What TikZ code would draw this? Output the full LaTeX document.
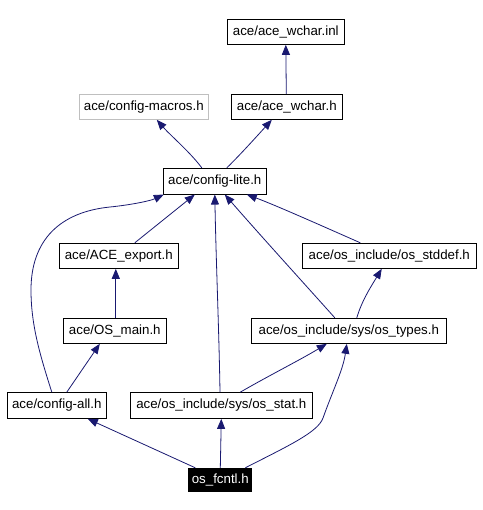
\documentclass[tikz,border=0pt]{standalone}
\usepackage{fontspec}
\setmainfont{Liberation Sans}
\usetikzlibrary{arrows.meta}
\definecolor{edgeblue}{HTML}{191970}
\definecolor{lightgray}{HTML}{BFBFBF}
\begin{document}
\begin{tikzpicture}[x=1pt,y=-1pt,
  filebox/.style={draw=black,line width=1pt,inner sep=0pt,minimum height=25pt,font=\fontsize{13.3}{15}\selectfont,fill=white},
  edge/.style={draw=edgeblue,line width=0.8pt,-{Triangle[length=10pt,width=8pt]}}]
\useasboundingbox (0,0) rectangle (482,510);
\node[filebox,minimum width=117pt] (inl) at (285.8,31.8) {ace/ace\_wchar.inl};
\node[filebox,minimum width=129pt,draw=lightgray] (macros) at (143.8,106.8) {ace/config-macros.h};
\node[filebox,minimum width=111pt] (wcharh) at (286.8,106.8) {ace/ace\_wchar.h};
\node[filebox,minimum width=103pt,minimum height=25.7pt] (lite) at (214.8,181.2) {ace/config-lite.h};
\node[filebox,minimum width=119pt] (export) at (118.8,255.8) {ace/ACE\_export.h};
\node[filebox,minimum width=174pt] (stddef) at (389.3,255.8) {ace/os\_include/os\_stddef.h};
\node[filebox,minimum width=103pt] (osmain) at (114.8,330.8) {ace/OS\_main.h};
\node[filebox,minimum width=195pt] (types) at (348.8,330.8) {ace/os\_include/sys/os\_types.h};
\node[filebox,minimum width=99pt,minimum height=25.7pt] (configall) at (56.8,405.5) {ace/config-all.h};
\node[filebox,minimum width=182pt,minimum height=25.7pt] (stat) at (221.3,405.5) {ace/os\_include/sys/os\_stat.h};
\node[filebox,minimum width=62.7pt,minimum height=23pt,fill=black,text=white] (fcntl) at (220.3,479.8) {os\_fcntl.h};

\draw[edge] ([xshift=-0.5pt]wcharh.north) -- (inl.south);
\draw[edge] ([xshift=-13pt]lite.north) .. controls (190,152) and (170,135) .. ([xshift=13pt]macros.south);
\draw[edge] ([xshift=12pt]lite.north) .. controls (240,155) and (258,135) .. ([xshift=-15pt]wcharh.south);
\draw[edge] ([xshift=16pt]export.north) -- ([xshift=-20pt]lite.south);
\draw[edge] ([xshift=-1.3pt]stat.north) .. controls (219,330) and (216,260) .. (lite.south);
\draw[edge] ([xshift=-14pt]types.north) .. controls (310,290) and (260,235) .. ([xshift=10pt]lite.south);
\draw[edge] ([xshift=-29pt]stddef.north) .. controls (320,225) and (275,205) .. ([xshift=32pt]lite.south);
\draw[edge] ([xshift=-5pt]configall.north) .. controls (40,355) and (31,325) .. (31,290)
  .. controls (31,240) and (60,212) .. (110,207)
  .. controls (130,205) and (150,201) .. ([xshift=1pt]lite.south west);
\draw[edge] ([xshift=1pt]osmain.north) -- ([xshift=-3pt]export.south);
\draw[edge] ([xshift=10pt]configall.north) -- ([xshift=-15pt]osmain.south);
\draw[edge] ([xshift=8pt]types.north) .. controls (362,300) and (372,285) .. ([xshift=-7.6pt]stddef.south);
\draw[edge] ([xshift=19pt]stat.north) .. controls (270,375) and (300,360) .. ([xshift=-22pt]types.south);
\draw[edge] ([xshift=-25pt]fcntl.north) -- ([xshift=31pt]configall.south);
\draw[edge] (fcntl.north) -- (stat.south);
\draw[edge] ([xshift=25pt]fcntl.north) .. controls (290,445) and (318,432) .. (323,418)
  .. controls (333,390) and (343,370) .. ([xshift=-2pt]types.south);
\end{tikzpicture}
\end{document}
